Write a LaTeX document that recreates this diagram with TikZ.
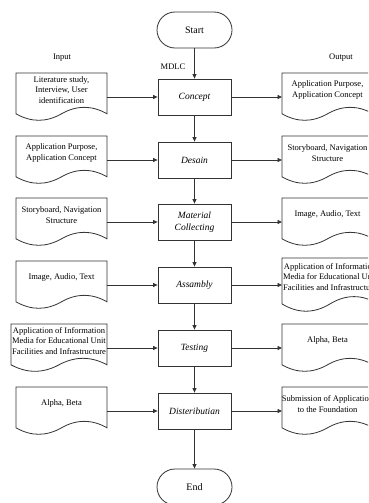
\documentclass[tikz,border=0pt]{standalone}
\usepackage{fontspec}
\setmainfont{Liberation Serif}
\usetikzlibrary{arrows.meta,calc}
\tikzset{
  line/.style={draw=black!80, line width=0.8pt},
  arr/.style={line, -{Triangle[length=4.5pt,width=4pt]}},
  proc/.style={draw=black!80, line width=0.8pt, minimum width=73pt, minimum height=36pt,
    font=\fontsize{9.5}{11.5}\selectfont\itshape, align=center, inner sep=1pt},
  term/.style={draw=black!80, line width=0.8pt, rounded corners=18pt, minimum width=75pt,
    minimum height=36pt, font=\fontsize{10}{12}\selectfont},
  doctext/.style={font=\fontsize{8.5}{10.6}\selectfont, align=center, inner sep=0pt},
  lbl/.style={font=\fontsize{8.5}{10}\selectfont, inner sep=0pt},
}
% #1 name, #2 left x, #3 top y, #4 width, #5 height, #6 text
\newcommand{\docshape}[6]{%
  \node[doctext] (#1) at ({#2+#4/2},{#3+0.35*#5}) {#6};
  \coordinate (#1w) at (#2,{#3+#5/2});
  \coordinate (#1e) at ({#2+#4},{#3+#5/2});
  \draw[line] (#2,#3) -- ({#2+#4},#3) -- ({#2+#4},{#3+0.85*#5})
    .. controls ({#2+5*#4/6},{#3+0.67*#5}) and ({#2+2*#4/3},{#3+0.67*#5}) .. ({#2+#4/2},{#3+0.85*#5})
    .. controls ({#2+#4/3},{#3+1.03*#5}) and ({#2+#4/6},{#3+1.03*#5}) .. (#2,{#3+0.85*#5}) -- cycle;
}
\begin{document}
\begin{tikzpicture}[x=1pt,y=-1pt]
\useasboundingbox (0,0) rectangle (368,503);
\clip (0,0) rectangle (368,503);
\fill[white] (0,0) rectangle (368,503);

\node[term] (start) at (194.5,30) {Start};
\node[term] (end) at (194.5,487) {End};

\node[lbl] (inlbl) at (62,58) {Input};
\node[lbl] (outlbl) at (341,58) {Output};
\node[lbl] (mdlc) at (173,67) {MDLC};

\node[proc] (c1) at (194.5,97) {Concept};
\node[proc] (c2) at (194.5,160) {Desain};
\node[proc] (c3) at (194.5,222) {Material\\Collecting};
\node[proc] (c4) at (194.5,285) {Assambly};
\node[proc] (c5) at (194.5,348) {Testing};
\node[proc] (c6) at (194.5,411) {Disteributian};

\docshape{l1}{16}{73}{91}{48}{Literature study,\\Interview, User\\identification}
\docshape{r1}{282}{73}{91}{48}{Application Purpose,\\Application Concept}
\docshape{l2}{16}{136}{91}{48}{Application Purpose,\\Application Concept}
\docshape{r2}{282}{136}{91}{48}{Storyboard, Navigation\\Structure}
\docshape{l3}{16}{198}{91}{48}{Storyboard, Navigation\\Structure}
\docshape{r3}{282}{198}{91}{48}{Image, Audio, Text}
\docshape{l4}{16}{261}{91}{48}{Image, Audio, Text}
\docshape{r4}{282}{258}{96}{54}{Application of Information\\Media for Educational Unit\\Facilities and Infrastructure}
\docshape{l5}{11}{324}{96}{48}{Application of Information\\Media for Educational Unit\\Facilities and Infrastructure}
\docshape{r5}{282}{324}{91}{48}{Alpha, Beta}
\docshape{l6}{16}{387}{91}{48}{Alpha, Beta}
\docshape{r6}{282}{387}{91}{48}{Submission of Application\\to the Foundation}

\draw[arr] (start) -- (c1);
\draw[arr] (c1) -- (c2);
\draw[arr] (c2) -- (c3);
\draw[arr] (c3) -- (c4);
\draw[arr] (c4) -- (c5);
\draw[arr] (c5) -- (c6);
\draw[arr] (c6) -- (end);

\foreach \i in {1,...,6}{
  \draw[arr] (l\i e) -- (l\i e -| c\i.west);
  \draw[arr] (r\i w -| c\i.east) -- (r\i w);
}
\end{tikzpicture}
\end{document}
